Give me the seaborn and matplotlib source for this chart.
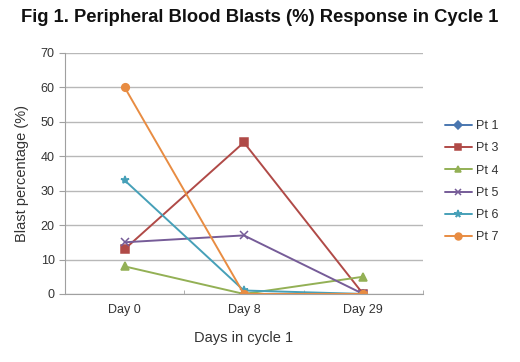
import numpy as np
import pandas as pd
import matplotlib.pyplot as plt
import seaborn as sns

days = ["Day 0", "Day 8", "Day 29"]
patients = ["Pt 1", "Pt 3", "Pt 4", "Pt 5", "Pt 6", "Pt 7"]
pt1 = [np.nan, 0, 0]
pt3 = [13, 44, 0]
pt4 = [8, 0, 5]
pt5 = [15, 17, 0]
pt6 = [33, 1, 0]
pt7 = [60, 0, 0]

colors = ["#4A77B0", "#B04A47", "#93B055", "#765C98", "#46A0B8", "#E88C42"]
markers = ["D", "s", "^", "x", "*", "o"]
msizes = [4.2, 5.5, 5.5, 5.5, 6, 5.5]

rows = []
for name, vals in zip(patients, [pt1, pt3, pt4, pt5, pt6, pt7]):
    for i, v in enumerate(vals):
        rows.append({"patient": name, "day": i, "blast": v})
df = pd.DataFrame(rows)

sns.set_style("white")
plt.rcParams['font.family'] = ['Liberation Sans', 'DejaVu Sans']

fig = plt.figure(figsize=(5.2, 3.62), dpi=100)
ax = fig.add_axes([0.125, 0.188, 0.688, 0.666])

# one call per patient so filled and line-art markers can be mixed
for name, c, m, ms in zip(patients, colors, markers, msizes):
    sub = df[df["patient"] == name].dropna()
    sns.lineplot(data=sub, x="day", y="blast", color=c, marker=m,
                 linewidth=1.4, markersize=ms, markeredgewidth=1.1,
                 markeredgecolor=c, label=name, ax=ax)

ax.set_xlim(-0.5, 2.5)
ax.set_ylim(0, 70)
ax.set_yticks(range(0, 71, 10))
ax.set_xticks([0, 1, 2])
ax.set_xticklabels(days)
ax.set_xticks([-0.5, 0.5, 1.5, 2.5], minor=True)
ax.yaxis.grid(True, color="#b8b8b8", linewidth=1)
ax.set_axisbelow(True)
for s in ["top", "right"]:
    ax.spines[s].set_visible(False)
for s in ["left", "bottom"]:
    ax.spines[s].set_color("#a0a0a0")
ax.tick_params(axis="y", length=4, color="#a0a0a0", labelsize=9, labelcolor="#333333", left=True)
ax.tick_params(axis="x", which="major", length=0, labelsize=9, labelcolor="#333333", pad=7)
ax.tick_params(axis="x", which="minor", length=3, color="#a0a0a0", bottom=True, direction="in")

ax.set_xlabel("Days in cycle 1", fontsize=10.5, color="#333333", labelpad=11)
ax.set_ylabel("Blast percentage (%)", fontsize=10.5, color="#333333", labelpad=8)

fig.suptitle("Fig 1. Peripheral Blood Blasts (%) Response in Cycle 1",
             x=0.5, y=0.975, fontsize=13.2, fontweight="bold", color="#111111")

ax.legend(loc="center left", bbox_to_anchor=(1.03, 0.465), frameon=False,
          fontsize=9, handlelength=2.2, labelspacing=0.82, handletextpad=0.3,
          markerscale=0.9, labelcolor="#333333")

fig.savefig("out.png", dpi=100)
